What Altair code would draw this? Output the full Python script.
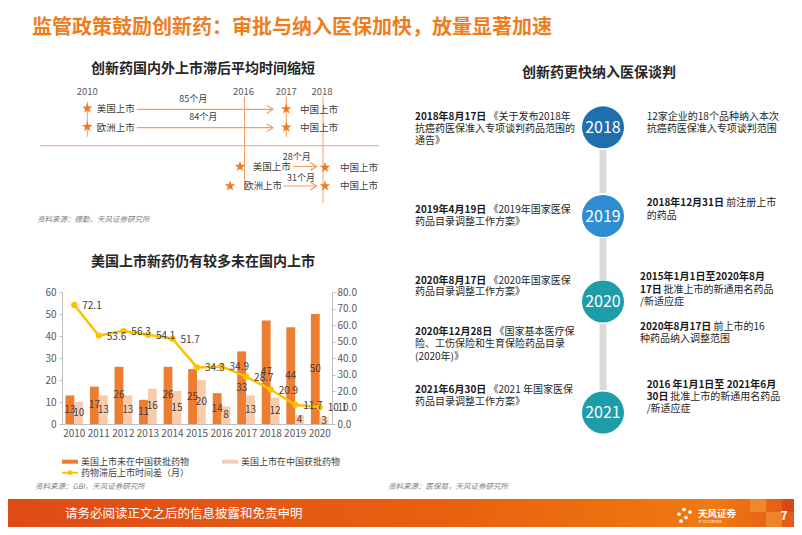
import math
import altair as alt
import pandas as pd

FONT = "Noto Sans CJK SC"

# ---------------- chart data ----------------
years = ["2010", "2011", "2012", "2013", "2014", "2015", "2016", "2017", "2018", "2019", "2020"]
not_approved_cn = [13, 17, 26, 11, 26, 25, 14, 33, 47, 44, 50]
approved_cn = [10, 13, 13, 16, 15, 20, 8, 13, 12, 4, 3]
lag_months = [72.1, 53.6, 56.3, 54.1, 51.7, 34.3, 34.9, 28.7, 20.9, 11.7, 10.1]
series_names = ["美国上市未在中国获批药物", "美国上市在中国获批药物", "药物滞后上市时间差（月）"]
series_colors = ["#ED7D31", "#F8CBAD", "#FFC000"]
left_ticks = [0, 10, 20, 30, 40, 50, 60]
right_ticks = [0, 10, 20, 30, 40, 50, 60, 70, 80]

# ---------------- texts ----------------
page_title = "监管政策鼓励创新药：审批与纳入医保加快，放量显著加速"
title_lag = "创新药国内外上市滞后平均时间缩短"
title_bars = "美国上市新药仍有较多未在国内上市"
title_nrdl = "创新药更快纳入医保谈判"
source_lag = "资料来源：德勤，天风证券研究所"
source_bars = "资料来源：GBI，天风证券研究所"
source_nrdl = "资料来源：医保局，天风证券研究所"
footer_text = "请务必阅读正文之后的信息披露和免责申明"
brand = "天风证券"
brand_en = "TF SECURITIES"
page_no = "7"

lag_years = ["2010", "2016", "2017", "2018"]
launch_regions = ["美国上市", "欧洲上市"]
china_launch = "中国上市"
lag_before = ["85个月", "84个月"]
lag_after = ["28个月", "31个月"]

nrdl_years = ["2018", "2019", "2020", "2021"]
nrdl_colors = ["#1F6EAE", "#2E8CD3", "#1E9CA8", "#1E9CA8"]

policy_left = [
    [("2018年8月17日", True), ("《关于发布2018年", False)],
    [("抗癌药医保准入专项谈判药品范围的", False)],
    [("通告》", False)],
    [("2019年4月19日", True), ("《2019年国家医保", False)],
    [("药品目录调整工作方案》", False)],
    [("2020年8月17日", True), ("《2020年国家医保", False)],
    [("药品目录调整工作方案》", False)],
    [("2020年12月28日", True), ("《国家基本医疗保", False)],
    [("险、工伤保险和生育保险药品目录", False)],
    [("(2020年)》", False)],
    [("2021年6月30日", True), ("《2021 年国家医保", False)],
    [("药品目录调整工作方案》", False)],
]
policy_right = [
    [("12家企业的18个品种纳入本次", False)],
    [("抗癌药医保准入专项谈判范围", False)],
    [("2018年12月31日", True), ("前注册上市", False)],
    [("的药品", False)],
    [("2015年1月1日至2020年8月", True)],
    [("17日", True), ("批准上市的新通用名药品", False)],
    [("/新适应症", False)],
    [("2020年8月17日", True), ("前上市的16", False)],
    [("种药品纳入调整范围", False)],
    [("2016 年1月1日至 2021年6月", True)],
    [("30日", True), ("批准上市的新通用名药品", False)],
    [("/新适应症", False)],
]

# ---------------- layout (screen px) ----------------
policy_left_x = 415
policy_left_y = [117.3, 129.0, 140.7, 210.0, 221.7, 280.7, 292.3, 331.7, 344.3, 356.7, 390.0, 402.3]
policy_right_x = [646.7, 646.7, 646.7, 646.7, 640, 640, 640, 640, 640, 646.7, 646.7, 646.7]
policy_right_y = [117.3, 129.0, 203.3, 215.7, 276.7, 290.0, 301.7, 327.3, 339.3, 385.0, 396.7, 409.3]
circle_x = 603
circle_y = [127.3, 216.0, 301.5, 412.5]

ORANGE = "#F07A22"
LINE_OR = "#F2A066"
TEXT = "#404040"
GREY = "#7F7F7F"


def star_path(r_in=0.40):
    pts = []
    for k in range(10):
        a = math.radians(-90 + 36 * k)
        r = 1.0 if k % 2 == 0 else r_in
        pts.append(f"{r * math.cos(a):.3f},{r * math.sin(a):.3f}")
    return "M" + "L".join(pts) + "Z"


STAR = star_path()
CHEVRON = "M-1.6,-1L0,0L-1.6,1"


def text_width(s, size, bold=False):
    w = 0.0
    for ch in s:
        if ord(ch) >= 0x2E80:
            w += 1.0
        elif ch.isdigit():
            w += 0.6 if bold else 0.56
        elif ch == " ":
            w += 0.25
        else:
            w += 0.5
    return w * size


class Canvas:
    def __init__(self, x0, x1, y0, y1):
        self.w = x1 - x0
        self.h = y1 - y0
        self.sx = alt.Scale(domain=[x0, x1], nice=False, zero=False)
        self.sy = alt.Scale(domain=[y0, y1], nice=False, zero=False, reverse=True)
        self.layers = []

    def X(self):
        return alt.X("x:Q", scale=self.sx, axis=None)

    def Y(self):
        return alt.Y("y:Q", scale=self.sy, axis=None)

    def text(self, rows, **mk):
        df = pd.DataFrame(rows, columns=["x", "y", "t"])
        props = dict(font=FONT, baseline="middle", align="left", color=TEXT)
        props.update(mk)
        self.layers.append(alt.Chart(df).mark_text(**props).encode(x=self.X(), y=self.Y(), text="t:N"))

    def rule(self, rows, **mk):
        df = pd.DataFrame(rows, columns=["x", "y", "x2", "y2"])
        self.layers.append(alt.Chart(df).mark_rule(**mk).encode(x=self.X(), y=self.Y(), x2="x2:Q", y2="y2:Q"))

    def points(self, rows, colors=None, **mk):
        df = pd.DataFrame(rows, columns=["x", "y"])
        enc = dict(x=self.X(), y=self.Y())
        if colors is not None:
            df["c"] = colors
            enc["color"] = alt.Color("c:N", scale=None)
        self.layers.append(alt.Chart(df).mark_point(**mk).encode(**enc))

    def rect(self, rows, **mk):
        df = pd.DataFrame(rows, columns=["x", "y", "x2", "y2"])
        self.layers.append(alt.Chart(df).mark_rect(**mk).encode(x=self.X(), y=self.Y(), x2="x2:Q", y2="y2:Q"))

    def chart(self):
        return alt.layer(*self.layers).properties(width=self.w, height=self.h)


def runs_rows(lines, xs, ys, size):
    bold_rows, norm_rows = [], []
    for line, x, y in zip(lines, xs, ys):
        cx = x
        for t, b in line:
            (bold_rows if b else norm_rows).append((cx, y, t))
            cx += text_width(t, size, b) + (1.5 if b else 0)
    return bold_rows, norm_rows


# ---------------- header ----------------
hdr = Canvas(8, 794, 8, 50)
hdr.text([(32, 27.5, page_title)], fontSize=20, fontWeight="bold", color="#EE7D22")
header = hdr.chart()

# ---------------- top-left diagram ----------------
d = Canvas(8, 380, 50, 292)
d.text([(203, 68.5, title_lag), (203, 262, title_bars)], fontSize=14, fontWeight="bold", align="center", color="#262626")
d.rule([(87.3, 101.7, 87.3, 136.7), (244.5, 96.7, 244.5, 190), (286.3, 96.7, 286.3, 137),
        (323, 96.7, 323, 203), (40, 145.7, 379, 145.7)], color=LINE_OR, strokeWidth=1)
d.rule([(136.7, 109.3, 273, 109.3), (136.7, 127.7, 273, 127.7), (293.3, 166.5, 316.7, 166.5),
        (283.3, 186, 316.7, 186)], color=LINE_OR, strokeWidth=1.2)
d.points([(273, 109.3), (273, 127.7), (316.7, 166.5), (316.7, 186)], shape=CHEVRON, filled=False,
         size=60, color=LINE_OR, strokeWidth=1.2, opacity=1)
d.points([(87.3, 108.3), (87.3, 126.7), (286.3, 109), (286.3, 127.3), (240, 166.5), (230, 186),
          (325, 167.5), (325, 186)], shape=STAR, filled=True, size=120, color=ORANGE, opacity=1)
d.text(list(zip([87.3, 243.5, 286.3, 322], [91.7] * 4, lag_years)), fontSize=9.5, align="center", color="#595959")
d.text([(96.7, 109.3, launch_regions[0]), (96.7, 127.7, launch_regions[1]),
        (252.7, 166.7, launch_regions[0]), (244, 186, launch_regions[1]),
        (300, 110, china_launch), (300, 127.7, china_launch),
        (340, 168.3, china_launch), (340, 186, china_launch)], fontSize=9.5)
d.text([(193.3, 99.3, lag_before[0]), (203.3, 117.3, lag_before[1]),
        (296.7, 157.3, lag_after[0]), (301, 177.7, lag_after[1])], fontSize=9, align="center")
d.text([(37, 220, source_lag)], fontSize=7.5, fontStyle="italic", color=GREY)
top_diag = d.chart()

# ---------------- bar + line chart (plot spans screen x 8..332, bands 62..332) ----------------
bars_df = pd.DataFrame({
    "year": years + years,
    "series": [series_names[0]] * len(years) + [series_names[1]] * len(years),
    "value": not_approved_cn + approved_cn,
})
bars_df["mid"] = bars_df["value"] / 2
line_df = pd.DataFrame({"year": years, "lag": lag_months})

x_enc = alt.X("year:N", sort=years, title=None,
              scale=alt.Scale(range=[54, 324], paddingInner=0.28, paddingOuter=0.14),
              axis=alt.Axis(labelAngle=0, ticks=False, domainColor="#BFBFBF", labelColor="#595959",
                            labelFontSize=10, labelFont=FONT, labelPadding=4))
off = alt.XOffset("series:N", sort=series_names[:2], scale=alt.Scale(paddingInner=0, paddingOuter=0))
left_axis = alt.Axis(values=left_ticks, grid=False, domainColor="#BFBFBF", tickColor="#BFBFBF", tickSize=3,
                     labelColor="#595959", labelFontSize=10, labelFont=FONT, labelPadding=3, title=None,
                     offset=-54)
left_scale = alt.Scale(domain=[0, 60], nice=False)

bars = alt.Chart(bars_df).mark_bar().encode(
    x=x_enc, xOffset=off,
    y=alt.Y("value:Q", scale=left_scale, axis=left_axis, title=None),
    color=alt.Color("series:N", scale=alt.Scale(domain=series_names[:2], range=series_colors[:2]), legend=None),
)
bar_labels = alt.Chart(bars_df).mark_text(font=FONT, fontSize=10, color=TEXT).encode(
    x=x_enc, xOffset=off,
    y=alt.Y("mid:Q", scale=left_scale, axis=left_axis, title=None),
    text="value:Q",
)
right_axis = alt.Axis(orient="right", values=right_ticks, format=".1f", grid=False, domainColor="#BFBFBF",
                      tickColor="#BFBFBF", tickSize=3, labelColor="#595959", labelFontSize=10, labelFont=FONT,
                      labelPadding=2, title=None)
right_scale = alt.Scale(domain=[0, 80], nice=False)
yr = alt.Y("lag:Q", scale=right_scale, axis=right_axis, title=None)
lag_line = alt.Chart(line_df).mark_line(color=series_colors[2], strokeWidth=2.5).encode(x=x_enc, y=yr)
lag_pts = alt.Chart(line_df).mark_point(color=series_colors[2], filled=True, size=40, opacity=1).encode(x=x_enc, y=yr)
lag_lbl = alt.Chart(line_df).mark_text(font=FONT, fontSize=10, color=TEXT, align="left", dx=8, dy=1).encode(
    x=x_enc, y=yr, text=alt.Text("lag:Q", format=".1f"))

combo = alt.layer(alt.layer(bars, bar_labels), alt.layer(lag_line, lag_pts, lag_lbl)).resolve_scale(
    y="independent").properties(width=324, height=132)

# ---------------- legend + source ----------------
lg = Canvas(8, 380, 424, 499)
lg.rule([(62, 461.7, 78, 461.7)], color=series_colors[0], strokeWidth=4)
lg.rule([(222, 461.7, 238, 461.7)], color=series_colors[1], strokeWidth=4)
lg.rule([(62, 472.7, 78, 472.7)], color=series_colors[2], strokeWidth=2)
lg.points([(70, 472.7)], shape="circle", filled=True, size=22, color=series_colors[2], opacity=1)
lg.text([(81, 461.7, series_names[0]), (241, 461.7, series_names[1]), (81, 472.7, series_names[2])], fontSize=9)
lg.text([(35, 487.3, source_bars)], fontSize=7.5, fontStyle="italic", color=GREY)
legend_panel = lg.chart()

left_col = alt.vconcat(top_diag, combo, legend_panel, spacing=0, bounds="flush")

# ---------------- right timeline ----------------
r = Canvas(380, 794, 50, 499)
r.text([(599, 73.3, title_nrdl)], fontSize=14, fontWeight="bold", align="center", color="#262626")
r.rule([(circle_x, 150, circle_x, 193), (circle_x, 238, circle_x, 280), (circle_x, 324, circle_x, 390)],
       color="#D9D9D9", strokeWidth=7)
r.points([(circle_x, cy) for cy in circle_y], colors=nrdl_colors, shape="circle", filled=True, size=1764, opacity=1)
r.text([(circle_x, cy + 0.5, t) for cy, t in zip(circle_y, nrdl_years)], fontSize=16, align="center", color="white")
bL, nL = runs_rows(policy_left, [policy_left_x] * len(policy_left), policy_left_y, 10)
bR, nR = runs_rows(policy_right, policy_right_x, policy_right_y, 10)
r.text(bL + bR, fontSize=10, fontWeight="bold", color="#1A1A1A")
r.text(nL + nR, fontSize=10, color="#262626")
r.text([(388, 487.3, source_nrdl)], fontSize=7.5, fontStyle="italic", color=GREY)
right_panel = r.chart()

mid = alt.hconcat(left_col, right_panel, spacing=0)

# ---------------- footer ----------------
f = Canvas(8, 794, 499, 527)
grad = alt.Gradient(gradient="linear", x1=0, x2=1, y1=0, y2=0,
                    stops=[alt.GradientStop(color="#DF4B16", offset=0),
                           alt.GradientStop(color="#E8600F", offset=0.55),
                           alt.GradientStop(color="#F07A10", offset=0.9),
                           alt.GradientStop(color="#E25A18", offset=1)])
f.rect([(8, 499, 794, 527)], color=grad)
f.rect([(750, 499, 766, 512), (766, 512, 782, 527)], color="#F4A040", opacity=0.55)
f.rect([(782, 499, 794, 512)], color="#C83A14", opacity=0.5)
f.text([(65, 514.3, footer_text)], fontSize=12.5, color="white")
f.points([(684, 509.5), (690, 512), (679, 514), (686, 517.5), (681, 521)], shape="circle", filled=True,
         size=14, color="white", opacity=1)
f.text([(698, 513.5, brand)], fontSize=9.5, fontWeight="bold", color="white")
f.text([(698, 521.5, brand_en)], fontSize=3.5, color="white")
f.text([(784, 516, page_no)], fontSize=12, fontWeight="bold", color="white", align="center")
footer = f.chart()

chart = alt.vconcat(header, mid, footer, spacing=0).properties(
    padding=0, background="white").configure_view(stroke=None)

chart.save("out.html", embed_options={"renderer": "svg", "actions": False})
